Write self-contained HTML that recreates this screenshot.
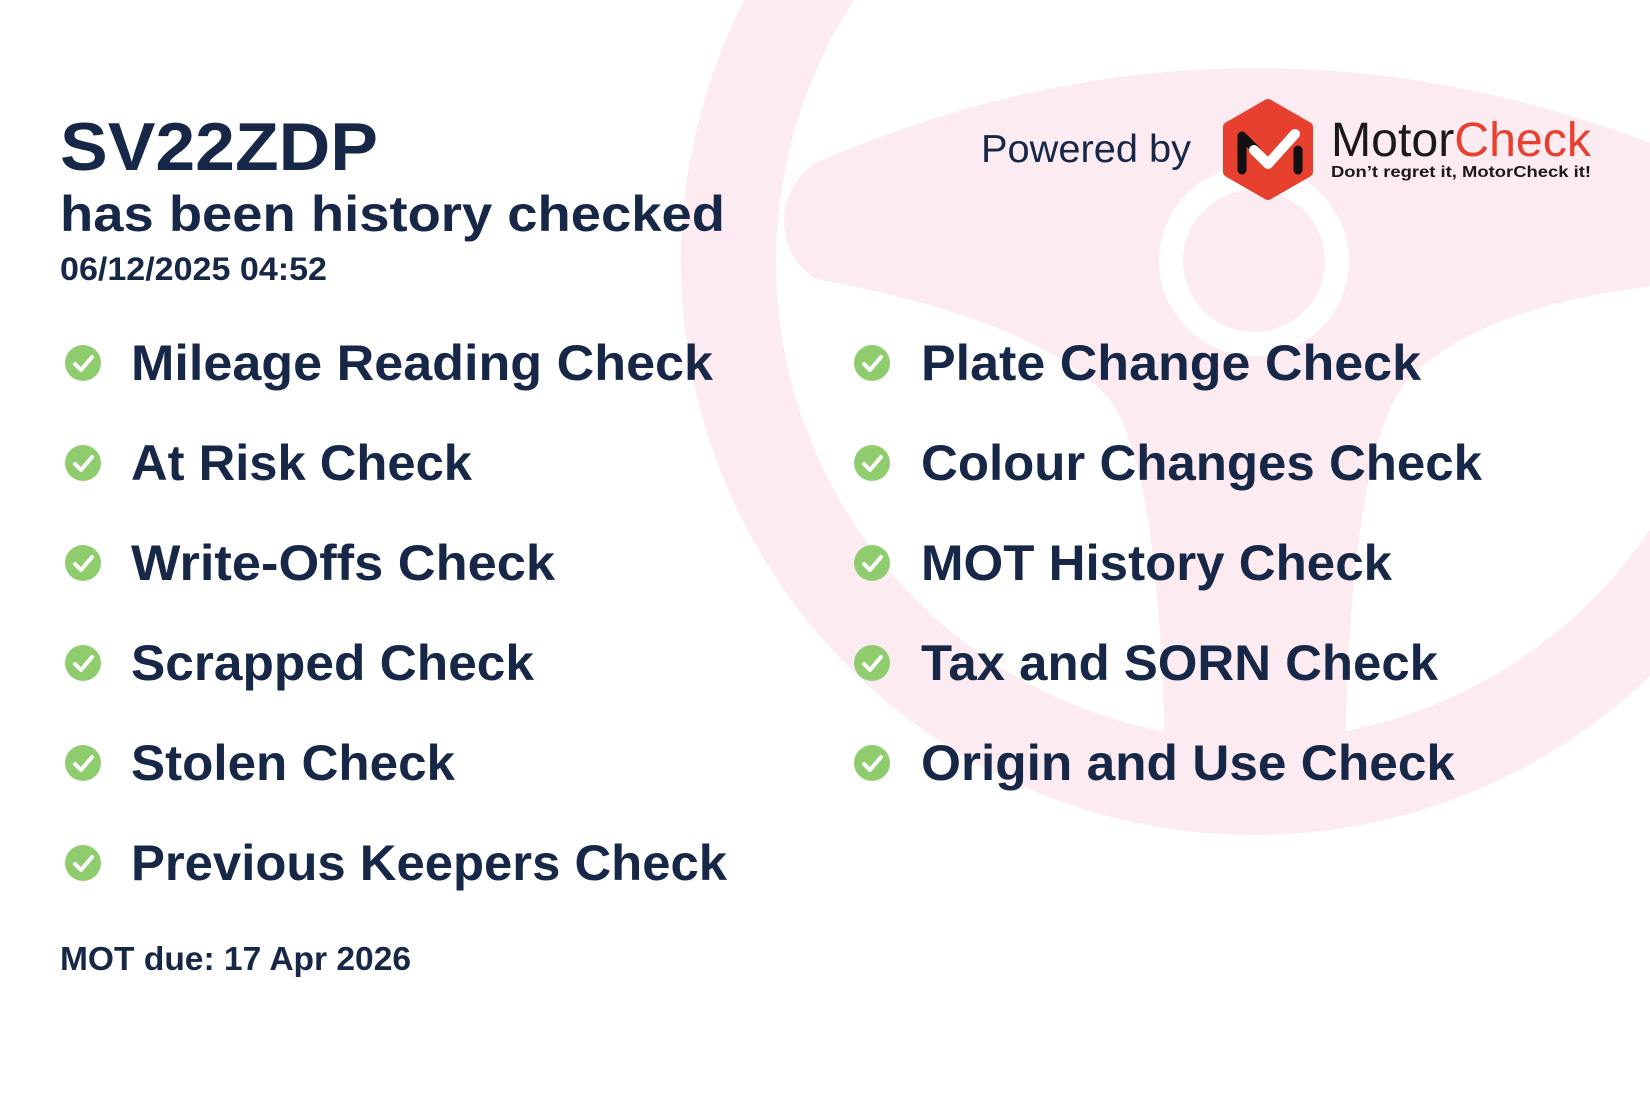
<!DOCTYPE html>
<html><head><meta charset="utf-8"><style>
html,body{margin:0;padding:0;background:#fff;}
svg{display:block;}
text{font-family:"Liberation Sans",sans-serif;}
</style></head><body>
<svg width="1650" height="1100" viewBox="0 0 1650 1100" xmlns="http://www.w3.org/2000/svg">
<rect width="1650" height="1100" fill="#fff"/>
<!-- steering wheel -->
<circle cx="1254" cy="262" r="573" fill="#fcebf0"/>
<circle cx="1254" cy="262" r="478" fill="#fff"/>
<path d="M815 163 Q1254 -27 1700 163 L1700 281 Q1470 300 1400 390 Q1350 470 1345 760 L1165 760 Q1160 470 1110 400 Q1040 320 815 279 A70 70 0 0 1 815 163 Z" fill="#fcebf0"/>
<circle cx="1254" cy="261" r="83" fill="none" stroke="#fff" stroke-width="24"/>

<g fill="#172747" font-weight="bold">
<text x="60" y="170" font-size="68" textLength="318" lengthAdjust="spacingAndGlyphs">SV22ZDP</text>
<text x="60" y="231" font-size="50" textLength="665" lengthAdjust="spacingAndGlyphs">has been history checked</text>
<text x="60" y="280" font-size="32" textLength="267" lengthAdjust="spacingAndGlyphs">06/12/2025 04:52</text>

<text x="131" y="380" font-size="50" textLength="582" lengthAdjust="spacingAndGlyphs">Mileage Reading Check</text>
<text x="131" y="480" font-size="50" textLength="341" lengthAdjust="spacingAndGlyphs">At Risk Check</text>
<text x="131" y="580" font-size="50" textLength="424" lengthAdjust="spacingAndGlyphs">Write-Offs Check</text>
<text x="131" y="680" font-size="50" textLength="403" lengthAdjust="spacingAndGlyphs">Scrapped Check</text>
<text x="131" y="780" font-size="50" textLength="324" lengthAdjust="spacingAndGlyphs">Stolen Check</text>
<text x="131" y="880" font-size="50" textLength="596" lengthAdjust="spacingAndGlyphs">Previous Keepers Check</text>

<text x="921" y="380" font-size="50" textLength="500" lengthAdjust="spacingAndGlyphs">Plate Change Check</text>
<text x="921" y="480" font-size="50" textLength="561" lengthAdjust="spacingAndGlyphs">Colour Changes Check</text>
<text x="921" y="580" font-size="50" textLength="471" lengthAdjust="spacingAndGlyphs">MOT History Check</text>
<text x="921" y="680" font-size="50" textLength="517" lengthAdjust="spacingAndGlyphs">Tax and SORN Check</text>
<text x="921" y="780" font-size="50" textLength="534" lengthAdjust="spacingAndGlyphs">Origin and Use Check</text>

<text x="60" y="970" font-size="33" textLength="351" lengthAdjust="spacingAndGlyphs">MOT due: 17 Apr 2026</text>
</g>
<text x="981" y="162" font-size="39" fill="#172747" textLength="210" lengthAdjust="spacingAndGlyphs">Powered by</text>

<!-- check icons -->
<g id="chk">
<circle cx="83" cy="363" r="18" fill="#8fcc6e"/>
<polyline points="75,364 81,370 92,357" fill="none" stroke="#fff" stroke-width="4" stroke-linecap="round" stroke-linejoin="round"/>
</g>
<use href="#chk" y="100"/><use href="#chk" y="200"/><use href="#chk" y="300"/><use href="#chk" y="400"/><use href="#chk" y="500"/>
<use href="#chk" x="789"/><use href="#chk" x="789" y="100"/><use href="#chk" x="789" y="200"/><use href="#chk" x="789" y="300"/><use href="#chk" x="789" y="400"/>

<!-- logo -->
<polygon points="1268,104 1308,127 1308,172 1268,195 1228,172 1228,127" fill="#e8402f" stroke="#e8402f" stroke-width="10" stroke-linejoin="round"/>
<polyline points="1242,170 1242,136 1256,150" fill="none" stroke="#111" stroke-width="9" stroke-linecap="round" stroke-linejoin="round"/>
<line x1="1298" y1="150" x2="1298" y2="170" stroke="#111" stroke-width="9" stroke-linecap="round"/>
<polyline points="1254,150 1268,164 1295,134" fill="none" stroke="#fff" stroke-width="10" stroke-linecap="round" stroke-linejoin="round"/>
<text x="1331" y="156" font-size="48" textLength="260" lengthAdjust="spacingAndGlyphs"><tspan fill="#1a1a1a">Motor</tspan><tspan fill="#e8402f">Check</tspan></text>
<text x="1331" y="177" font-size="16" font-weight="bold" fill="#1a1a1a" textLength="260" lengthAdjust="spacingAndGlyphs">Don’t regret it, MotorCheck it!</text>
</svg>
</body></html>
